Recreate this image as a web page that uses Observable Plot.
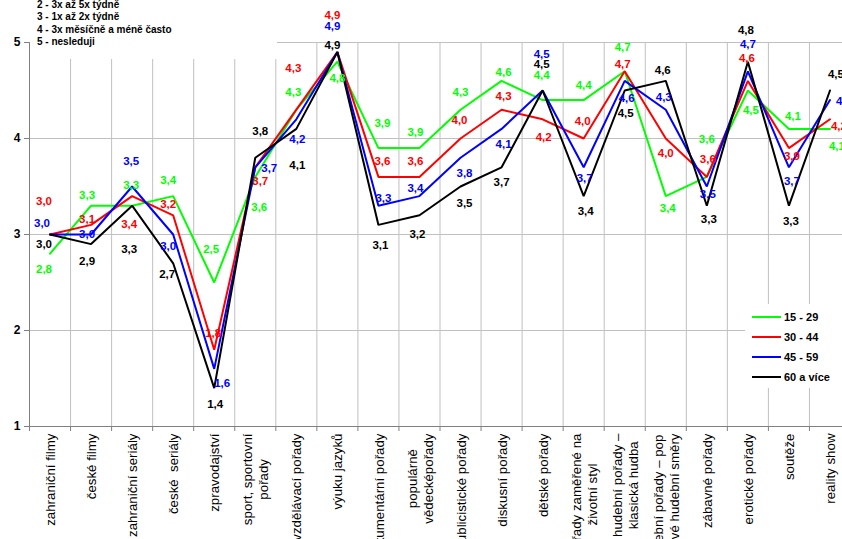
<!DOCTYPE html>
<html><head><meta charset="utf-8">
<script src="https://cdn.jsdelivr.net/npm/d3@7"></script>
<script src="https://cdn.jsdelivr.net/npm/@observablehq/plot@0.6"></script>
<style>
html,body{margin:0;padding:0;background:#fff;overflow:hidden;width:842px;height:539px}
#wrap{position:relative;width:842px;height:539px;overflow:hidden}
#wrap svg{overflow:hidden;display:block}
.note{position:absolute;left:30px;top:0;width:247px;height:59px;background:#fff;font:bold 10px "Liberation Sans",Arial,sans-serif;color:#000}
.note div{position:absolute;left:7px;white-space:nowrap;line-height:12px}
.legend{position:absolute;left:745px;top:304px;width:97px;height:84px;background:#fff;font:bold 11px "Liberation Sans",Arial,sans-serif;color:#000}
.legend .item{position:absolute;left:7px;height:14px;white-space:nowrap}
.legend .sw{position:absolute;left:0;top:6px;width:29px;height:2px}
.legend .lb{position:absolute;left:32px;top:0;line-height:14px}
</style></head>
<body>
<div id="wrap"></div>
<script>
const categories = [
  "zahraniční filmy", "české filmy", "zahraniční seriály", "české  seriály", "zpravodajství",
  "sport, sportovní\npořady", "vzdělávací pořady", "výuku jazyků", "dokumentární pořady",
  "populárně\nvědecképořady", "publicistické pořady", "diskusní pořady", "dětské pořady",
  "pořady zaměřené na\nživotní styl", "hudební pořady –\nklasická hudba",
  "hudební pořady – pop\na nové hudební směry", "zábavné pořady", "erotické pořady",
  "soutěže", "reality show"
];
const seriesNames = ["15 - 29", "30 - 44", "45 - 59", "60 a více"];
const seriesColors = ["#00ff00", "#ff0000", "#0000ff", "#000000"];
const v15_29 = [2.8, 3.3, 3.3, 3.4, 2.5, 3.6, 4.3, 4.8, 3.9, 3.9, 4.3, 4.6, 4.4, 4.4, 4.7, 3.4, 3.6, 4.5, 4.1, 4.1];
const v30_44 = [3.0, 3.1, 3.4, 3.2, 1.8, 3.7, 4.3, 4.9, 3.6, 3.6, 4.0, 4.3, 4.2, 4.0, 4.7, 4.0, 3.6, 4.6, 3.9, 4.2];
const v45_59 = [3.0, 3.0, 3.5, 3.0, 1.6, 3.7, 4.2, 4.9, 3.3, 3.4, 3.8, 4.1, 4.5, 3.7, 4.6, 4.3, 3.5, 4.7, 3.7, 4.4];
const v60 = [3.0, 2.9, 3.3, 2.7, 1.4, 3.8, 4.1, 4.9, 3.1, 3.2, 3.5, 3.7, 4.5, 3.4, 4.5, 4.6, 3.3, 4.8, 3.3, 4.5];
const yTicks = [1, 2, 3, 4, 5];
const noteLines = ["2 - 3x až 5x týdně", "3 - 1x až 2x týdně", "4 - 3x měsíčně a méně často", "5 - nesleduji"];

// label placement offsets (pixels), styling only
const offGreen = [[-6,16],[-4,-10],[-1,-20],[-5,-16],[-3,-33],[4,30],[-3,-17],[0,17],[4,-25],[-4,-16],[0,-17],[2,-9],[-1,-25],[0,-15],[-2,-24],[2,12],[0,-38],[3,20],[4,-13],[7,17]];
const offRed = [[-6,-33],[-4,-6],[-3,28],[-5,-11],[-1,-16],[5,14],[-3,-41],[-5,-37],[4,-16],[-4,-16],[-1,-18],[2,-13],[1,18],[-1,-17],[-2,-7],[0,15],[1,-18],[-1,-23],[3,8],[9,7]];
const offBlue = [[-8,-11],[-4,0],[-1,-25],[-5,12],[8,14],[14,1],[1,20],[-5,-26],[5,-7],[-4,-8],[4,16],[2,15],[-1,-36],[1,11],[2,17],[-2,-12],[1,8],[0,-27],[3,14],[14,1]];
const offBlack = [[-6,10],[-4,17],[-3,44],[-6,11],[1,16],[5,-26],[1,36],[-5,-7],[2,20],[-2,19],[4,17],[0,15],[-1,-26],[2,15],[1,23],[-3,-11],[2,14],[-2,-31],[2,16],[6,-16]];

const seriesValues = [v15_29, v30_44, v45_59, v60];
const offsets = [offGreen, offRed, offBlue, offBlack];
const n = categories.length;
const fmt = v => v.toFixed(1).replace(".", ",");
const FONT = "'Liberation Sans', Arial, sans-serif";
const XFS = 13.3;

const rows = [];
seriesNames.forEach((s, si) => {
  seriesValues[si].forEach((v, i) => {
    rows.push({series: s, si, xi: i + 0.5, value: v, label: fmt(v), dx: offsets[si][i][0], dy: offsets[si][i][1]});
  });
});

const ctx = document.createElement("canvas").getContext("2d");
ctx.font = XFS + "px " + FONT;
const labelMarks = categories.map((c, i) => {
  const maxW = d3.max(c.split("\n"), l => ctx.measureText(l).width);
  return Plot.text([{c, xi: i + 0.5}], {
    x: "xi", frameAnchor: "bottom", text: "c", rotate: -90,
    textAnchor: "middle", lineAnchor: "middle", lineHeight: 1.2,
    dy: 7 + maxW / 2, fontSize: XFS, fill: "black"
  });
});

const valueMarks = rows.map(r => Plot.text([r], {
  x: "xi", y: "value", text: "label", fill: seriesColors[r.si],
  dx: r.dx, dy: r.dy, fontWeight: "bold", fontSize: 11.5
}));

const chart = Plot.plot({
  width: 842, height: 539,
  marginTop: 42, marginBottom: 113, marginLeft: 29, marginRight: 0,
  x: {type: "linear", domain: [0, n], range: [29, 850], label: null},
  y: {domain: [1, 5], label: null},
  color: {domain: seriesNames, range: seriesColors},
  style: {fontFamily: FONT, overflow: "hidden", background: "#fff"},
  marks: [
    Plot.ruleY(yTicks.slice(1), {stroke: "#c0c0c0", strokeOpacity: 1}),
    Plot.ruleX(d3.range(1, n + 1), {stroke: "#c0c0c0", strokeOpacity: 1}),
    Plot.ruleX([0], {stroke: "#808080"}),
    Plot.ruleY([1], {stroke: "#808080"}),
    Plot.axisY({ticks: yTicks, tickSize: 5, tickPadding: 4, stroke: "#808080", fill: "black",
      fontWeight: "bold", fontSize: 12, tickFormat: d => String(d), label: null}),
    Plot.axisX({ticks: d3.range(n + 1), tickSize: 5, stroke: "#808080", tickFormat: () => "", label: null}),
    Plot.line(rows, {x: "xi", y: "value", z: "series", stroke: "series", strokeWidth: 2,
      strokeLinejoin: "miter"}),
    ...valueMarks,
    ...labelMarks
  ]
});

const wrap = document.getElementById("wrap");
wrap.appendChild(chart);

const note = document.createElement("div");
note.className = "note";
noteLines.forEach((t, i) => {
  const d = document.createElement("div");
  d.textContent = t;
  d.style.top = (-1 + i * 12.3) + "px";
  note.appendChild(d);
});
wrap.appendChild(note);

const legend = document.createElement("div");
legend.className = "legend";
seriesNames.forEach((s, i) => {
  const it = document.createElement("div");
  it.className = "item";
  it.style.top = (6 + i * 20) + "px";
  const sw = document.createElement("div");
  sw.className = "sw";
  sw.style.background = seriesColors[i];
  const lb = document.createElement("div");
  lb.className = "lb";
  lb.textContent = s;
  it.appendChild(sw); it.appendChild(lb);
  legend.appendChild(it);
});
wrap.appendChild(legend);
</script>
</body></html>
